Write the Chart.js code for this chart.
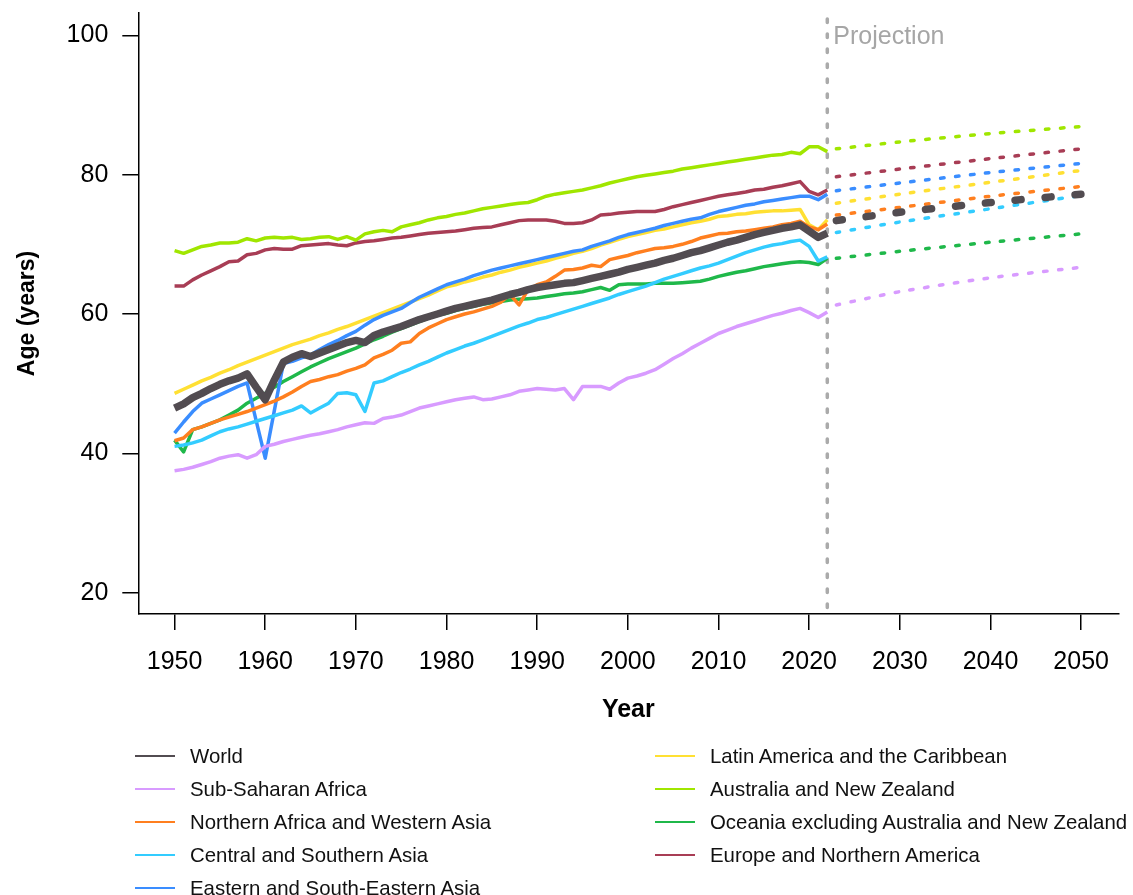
<!DOCTYPE html>
<html lang="en">
<head>
<meta charset="UTF-8" />
<title>Life expectancy at birth by region</title>
<script src="https://cdn.jsdelivr.net/npm/chart.js@4.4.1/dist/chart.umd.min.js"></script>
<style>
  body { margin: 0; background: #fff; font-family: "Liberation Sans", Arial, sans-serif; }
  #wrap { position: relative; width: 1133px; height: 895px; }
  #legend { position: absolute; left: 0; top: 0; width: 1133px; height: 895px; pointer-events: none; }
  .item { position: absolute; height: 32px; display: flex; align-items: center; font-size: 20.4px; color: #111; white-space: nowrap; }
  .swatch { width: 40px; height: 2px; margin-right: 15px; }
</style>
</head>
<body>
<div id="wrap">
  <canvas id="myChart"></canvas>
  <div id="legend"></div>
</div>

<script>
// ---- data ----
const years = Array.from({ length: 73 }, (_, i) => 1950 + i);   // 1950 .. 2022 estimates
const projYears = [2023, 2030, 2040, 2050];                       // projection
const xTicks = [1950, 1960, 1970, 1980, 1990, 2000, 2010, 2020, 2030, 2040, 2050];
const yTicks = [20, 40, 60, 80, 100];
const projectionStart = 2022;

const regionNames = [
  "World",
  "Sub-Saharan Africa",
  "Northern Africa and Western Asia",
  "Central and Southern Asia",
  "Eastern and South-Eastern Asia",
  "Latin America and the Caribbean",
  "Australia and New Zealand",
  "Oceania excluding Australia and New Zealand",
  "Europe and Northern America"
];

const world = [46.5, 47.1, 48.0, 48.6, 49.3, 49.9, 50.4, 50.8, 51.4, 49.5,
  47.7, 50.5, 53.1, 53.8, 54.3, 53.9, 54.4, 54.9, 55.4, 55.9,
  56.2, 55.9, 56.9, 57.4, 57.8, 58.2, 58.7, 59.2, 59.6, 60.0,
  60.4, 60.8, 61.1, 61.4, 61.7, 62.0, 62.4, 62.8, 63.1, 63.5,
  63.8, 64.0, 64.2, 64.4, 64.5, 64.8, 65.1, 65.4, 65.7, 66.0,
  66.4, 66.7, 67.0, 67.3, 67.7, 68.0, 68.4, 68.8, 69.1, 69.5,
  69.9, 70.3, 70.6, 71.0, 71.4, 71.7, 72.0, 72.3, 72.5, 72.8,
  71.9, 71.0, 71.6];
const ssa = [37.5, 37.7, 38.0, 38.4, 38.8, 39.3, 39.6, 39.8, 39.3, 39.8,
  41.0, 41.3, 41.7, 42.0, 42.3, 42.6, 42.8, 43.1, 43.4, 43.8,
  44.1, 44.4, 44.3, 45.0, 45.2, 45.5, 46.0, 46.5, 46.8, 47.1,
  47.4, 47.7, 47.9, 48.1, 47.7, 47.8, 48.1, 48.4, 48.9, 49.1,
  49.3, 49.2, 49.1, 49.3, 47.7, 49.6, 49.6, 49.6, 49.2, 50.1,
  50.8, 51.1, 51.5, 52.0, 52.8, 53.6, 54.3, 55.1, 55.8, 56.5,
  57.2, 57.7, 58.2, 58.6, 59.0, 59.4, 59.8, 60.1, 60.5, 60.8,
  60.2, 59.5, 60.3];
const nawa = [41.8, 42.2, 43.4, 43.8, 44.3, 44.8, 45.2, 45.6, 46.0, 46.5,
  47.0, 47.5, 48.1, 48.8, 49.6, 50.3, 50.6, 51.0, 51.3, 51.8,
  52.2, 52.7, 53.7, 54.2, 54.8, 55.8, 56.0, 57.2, 58.0, 58.6,
  59.2, 59.6, 60.0, 60.3, 60.7, 61.1, 61.7, 62.8, 61.3, 63.5,
  64.2, 64.6, 65.4, 66.3, 66.4, 66.6, 67.0, 66.8, 67.8, 68.1,
  68.4, 68.8, 69.1, 69.4, 69.5, 69.7, 70.0, 70.4, 70.9, 71.2,
  71.5, 71.6, 71.8, 71.9, 72.1, 72.3, 72.5, 72.8, 73.0, 73.3,
  72.5, 72.1, 72.9];
const csa = [41.0, 41.2, 41.5, 41.9, 42.5, 43.1, 43.5, 43.8, 44.2, 44.6,
  45.0, 45.4, 45.8, 46.2, 46.8, 45.8, 46.5, 47.2, 48.6, 48.7,
  48.4, 46.0, 50.1, 50.4, 51.0, 51.6, 52.1, 52.7, 53.2, 53.8,
  54.4, 54.9, 55.4, 55.8, 56.3, 56.8, 57.3, 57.8, 58.3, 58.7,
  59.2, 59.5, 59.9, 60.3, 60.7, 61.1, 61.5, 61.9, 62.3, 62.8,
  63.2, 63.6, 64.0, 64.5, 65.0, 65.4, 65.8, 66.2, 66.6, 66.9,
  67.3, 67.8, 68.3, 68.8, 69.2, 69.6, 69.9, 70.1, 70.4, 70.6,
  69.7, 67.6, 68.2];
const esea = [42.9, 44.5, 46.0, 47.2, 47.8, 48.4, 49.0, 49.6, 50.1, 44.7,
  39.3, 46.1, 52.9, 53.2, 53.7, 54.1, 54.9, 55.6, 56.2, 56.9,
  57.5, 58.4, 59.2, 59.8, 60.3, 60.8, 61.6, 62.4, 63.0, 63.6,
  64.2, 64.6, 65.0, 65.5, 65.9, 66.3, 66.6, 66.9, 67.2, 67.5,
  67.8, 68.1, 68.4, 68.7, 69.0, 69.2, 69.7, 70.1, 70.5, 71.0,
  71.4, 71.7, 72.0, 72.3, 72.7, 73.0, 73.3, 73.6, 73.8, 74.3,
  74.7, 75.0, 75.3, 75.6, 75.8, 76.1, 76.3, 76.5, 76.7, 76.9,
  76.9, 76.4, 77.2];
const latin = [48.6, 49.2, 49.8, 50.4, 50.9, 51.5, 52.0, 52.6, 53.1, 53.6,
  54.1, 54.6, 55.1, 55.6, 56.0, 56.4, 56.9, 57.3, 57.8, 58.2,
  58.7, 59.2, 59.7, 60.2, 60.7, 61.2, 61.7, 62.2, 62.7, 63.3,
  63.9, 64.2, 64.6, 64.9, 65.3, 65.6, 66.0, 66.3, 66.7, 67.0,
  67.3, 67.6, 68.0, 68.3, 68.7, 69.0, 69.4, 69.9, 70.3, 70.7,
  71.1, 71.4, 71.7, 72.0, 72.2, 72.5, 72.8, 73.1, 73.3, 73.6,
  74.0, 74.1, 74.3, 74.4, 74.6, 74.7, 74.8, 74.8, 74.9, 75.0,
  72.8, 72.1, 73.5];
const ausNz = [69.1, 68.7, 69.2, 69.7, 69.9, 70.2, 70.2, 70.3, 70.8, 70.5,
  70.9, 71.0, 70.9, 71.0, 70.7, 70.8, 71.0, 71.1, 70.7, 71.1,
  70.6, 71.5, 71.8, 72.0, 71.8, 72.5, 72.8, 73.1, 73.5, 73.8,
  74.0, 74.3, 74.5, 74.8, 75.1, 75.3, 75.5, 75.7, 75.9, 76.0,
  76.4, 76.9, 77.2, 77.4, 77.6, 77.8, 78.1, 78.4, 78.8, 79.1,
  79.4, 79.7, 79.9, 80.1, 80.3, 80.5, 80.8, 81.0, 81.2, 81.4,
  81.6, 81.8, 82.0, 82.2, 82.4, 82.6, 82.8, 82.9, 83.2, 83.0,
  84.0, 84.0, 83.3];
const oceania = [41.9, 40.2, 43.4, 43.8, 44.3, 44.8, 45.5, 46.2, 47.2, 47.9,
  48.6, 49.5, 50.3, 51.0, 51.7, 52.4, 53.0, 53.6, 54.1, 54.6,
  55.1, 55.7, 56.3, 56.8, 57.4, 57.9, 58.4, 58.9, 59.4, 59.8,
  60.1, 60.5, 60.8, 61.1, 61.4, 61.6, 61.8, 62.0, 62.1, 62.2,
  62.3, 62.5, 62.7, 62.9, 63.0, 63.2, 63.5, 63.8, 63.4, 64.2,
  64.3, 64.3, 64.3, 64.4, 64.4, 64.4, 64.5, 64.6, 64.7, 65.0,
  65.4, 65.7, 66.0, 66.2, 66.5, 66.8, 67.0, 67.2, 67.4, 67.5,
  67.4, 67.1, 68.0];
const europe = [64.0, 64.0, 64.9, 65.6, 66.2, 66.8, 67.5, 67.6, 68.5, 68.7,
  69.2, 69.4, 69.3, 69.3, 69.8, 69.9, 70.0, 70.1, 69.9, 69.8,
  70.2, 70.4, 70.5, 70.7, 70.9, 71.0, 71.2, 71.4, 71.6, 71.7,
  71.8, 71.9, 72.1, 72.3, 72.4, 72.5, 72.8, 73.1, 73.4, 73.5,
  73.5, 73.5, 73.3, 73.0, 73.0, 73.1, 73.5, 74.2, 74.3, 74.5,
  74.6, 74.7, 74.7, 74.7, 75.0, 75.4, 75.7, 76.0, 76.3, 76.6,
  76.9, 77.1, 77.3, 77.5, 77.8, 77.9, 78.2, 78.4, 78.7, 79.0,
  77.6, 77.1, 77.8];

// projections at projYears
const worldProj   = [73.4, 74.6, 76.0, 77.2];
const ssaProj     = [61.3, 63.2, 65.2, 66.7];
const nawaProj    = [74.2, 75.3, 76.9, 78.3];
const csaProj     = [71.7, 73.2, 75.1, 77.0];
const eseaProj    = [77.7, 78.8, 80.3, 81.6];
const latinProj   = [75.9, 77.2, 78.9, 80.6];
const ausNzProj   = [83.7, 84.7, 85.9, 86.9];
const oceaniaProj = [68.0, 69.0, 70.3, 71.5];
const europeProj  = [79.7, 80.8, 82.3, 83.7];

const estimates   = [world, ssa, nawa, csa, esea, latin, ausNz, oceania, europe];
const projections = [worldProj, ssaProj, nawaProj, csaProj, eseaProj, latinProj, ausNzProj, oceaniaProj, europeProj];

// ---- styles ----
const lineColors = ["#524c51", "#d89bff", "#ff7f1f", "#33ccff", "#3a8dff", "#ffe033", "#a0e600", "#1fb84a", "#a83d55"];
const FONT = '"Liberation Sans", Arial, sans-serif';
Chart.defaults.font.family = FONT;
Chart.defaults.color = "#000";

const toPoints = (xs, ys) => xs.map((x, i) => ({ x: x, y: ys[i] }));

const datasets = [];
regionNames.forEach((name, i) => {
  const isWorld = i === 0;
  datasets.push({
    label: name,
    data: toPoints(years, estimates[i]),
    borderColor: lineColors[i],
    borderWidth: isWorld ? 7.5 : 3.5,
    borderJoinStyle: "round",
    pointRadius: 0,
    tension: 0,
    order: isWorld ? 0 : 2
  });
  datasets.push({
    label: name + " (projection)",
    data: toPoints(projYears, projections[i]),
    borderColor: lineColors[i],
    borderWidth: isWorld ? 7.5 : 3.5,
    borderCapStyle: "round",
    borderDash: isWorld ? [6, 24] : [3.5, 11.5],
    pointRadius: 0,
    tension: 0.2,
    order: isWorld ? 0 : 2
  });
});

// vertical "Projection" marker
const projectionLine = {
  id: "projectionLine",
  beforeDatasetsDraw(chart) {
    const { ctx, chartArea, scales } = chart;
    const x = scales.x.getPixelForValue(projectionStart);
    ctx.save();
    ctx.strokeStyle = "#aaaaaa";
    ctx.lineWidth = 3.5;
    ctx.lineCap = "round";
    ctx.setLineDash([3.5, 11.5]);
    ctx.beginPath();
    ctx.moveTo(x, chartArea.top + 6);
    ctx.lineTo(x, chartArea.bottom);
    ctx.stroke();
    ctx.setLineDash([]);
    ctx.fillStyle = "#a6a6a6";
    ctx.font = "25px " + FONT;
    ctx.textBaseline = "alphabetic";
    ctx.fillText("Projection", x + 6, chartArea.top + 30.5);
    ctx.restore();
  }
};

const noPad = (s) => { s.paddingTop = 0; s.paddingBottom = 0; s.paddingLeft = 0; s.paddingRight = 0; };

const ctx = document.getElementById("myChart").getContext("2d");
ctx.canvas.width = 1133;
ctx.canvas.height = 895;

const myChart = new Chart(ctx, {
  type: "line",
  data: { datasets: datasets },
  options: {
    responsive: false,
    animation: false,
    layout: { padding: { top: 13, right: 14.7, bottom: 170, left: 0 } },
    plugins: { legend: { display: false }, tooltip: { enabled: false } },
    scales: {
      x: {
        type: "linear",
        min: 1946.0,
        max: 2054.1,
        afterBuildTicks: (s) => { s.ticks = xTicks.map((v) => ({ value: v })); },
        afterFit: (s) => { s.height = 111; noPad(s); },
        ticks: { font: { size: 25 }, color: "#000", padding: 17, maxRotation: 0, autoSkip: false,
                 callback: (v) => String(v) },
        grid: { drawOnChartArea: false, drawTicks: true, tickLength: 16, color: "#000", lineWidth: 1.5 },
        border: { display: true, color: "#000", width: 1.5 },
        title: { display: true, text: "Year", font: { size: 25, weight: "bold" }, color: "#000",
                 padding: { top: 0, bottom: 0 } }
      },
      y: {
        type: "linear",
        min: 16.94,
        max: 103.2,
        afterBuildTicks: (s) => { s.ticks = yTicks.map((v) => ({ value: v })); },
        afterFit: (s) => { s.width = 138.3; noPad(s); },
        ticks: { font: { size: 25 }, color: "#000", padding: 14 },
        grid: { drawOnChartArea: false, drawTicks: true, tickLength: 16, color: "#000", lineWidth: 1.5 },
        border: { display: true, color: "#000", width: 1.5 },
        title: { display: true, text: "Age (years)", font: { size: 23, weight: "bold" }, color: "#000",
                 padding: { top: 14, bottom: 0 } }
      }
    }
  },
  plugins: [projectionLine]
});

// legend in two columns below the chart
const legend = document.getElementById("legend");
const colLeft = [135, 655];
regionNames.forEach((name, i) => {
  const col = i < 5 ? 0 : 1;
  const row = i < 5 ? i : i - 5;
  const item = document.createElement("div");
  item.className = "item";
  item.style.left = colLeft[col] + "px";
  item.style.top = (740 + row * 33) + "px";
  const sw = document.createElement("span");
  sw.className = "swatch";
  sw.style.background = lineColors[i];
  item.appendChild(sw);
  item.appendChild(document.createTextNode(name));
  legend.appendChild(item);
});
</script>
</body>
</html>
